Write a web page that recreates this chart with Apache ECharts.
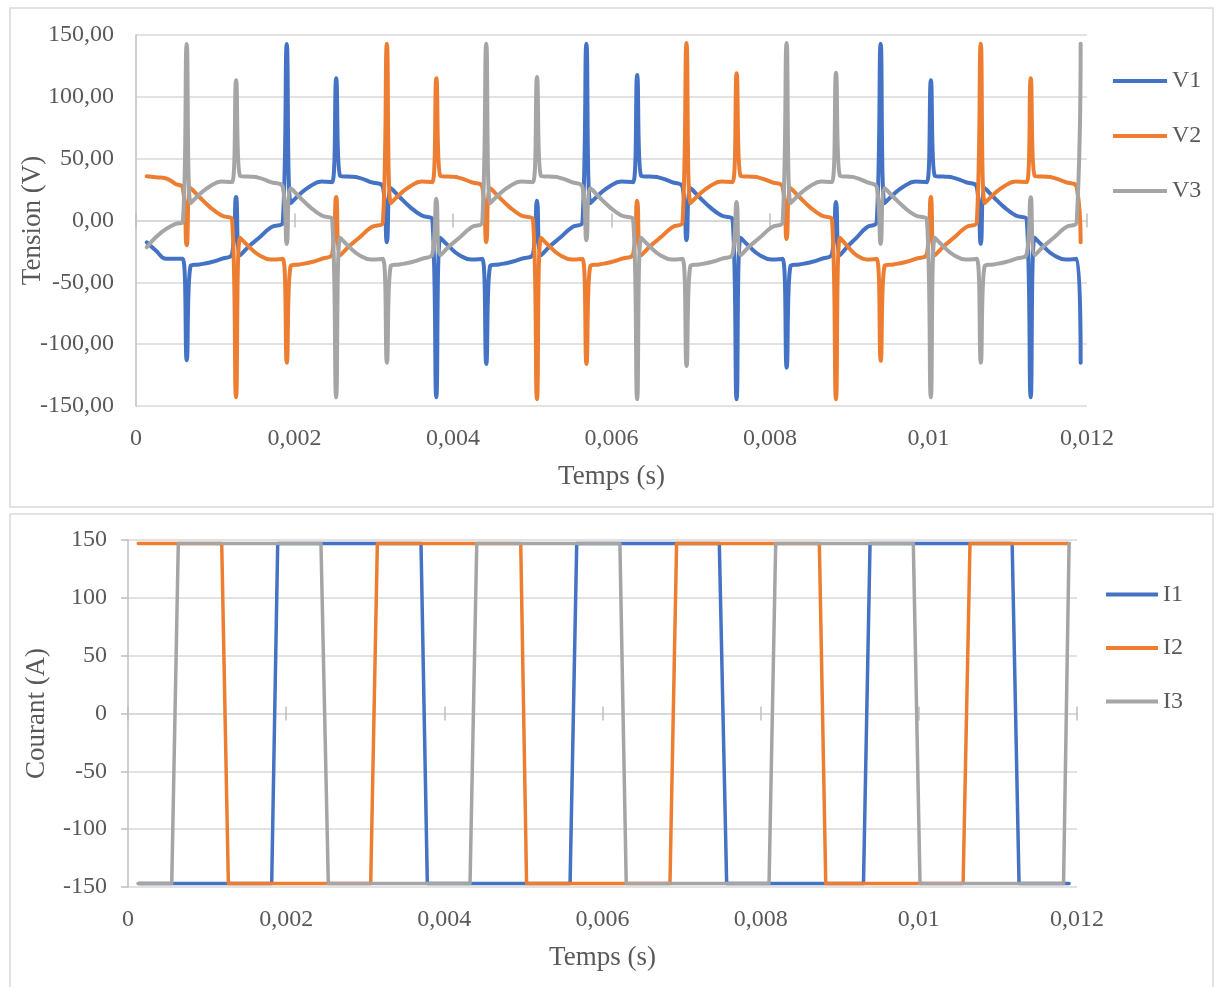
<!DOCTYPE html>
<html><head><meta charset="utf-8">
<script src="https://cdn.jsdelivr.net/npm/echarts@6/dist/echarts.min.js"></script>
<style>html,body{margin:0;padding:0;background:#fff}#c{width:1216px;height:987px}</style>
</head><body><div id="c"></div>
<script>
// ---- Tension (V) : time in ms ----
const timeV = [
0.135, 0.25, 0.38, 0.5, 0.59,
0.64, 0.69, 0.80, 0.93, 1.08, 1.213,
1.263, 1.313, 1.423, 1.553, 1.703, 1.853,
1.903, 1.953, 2.063, 2.193, 2.343, 2.476,
2.526, 2.576, 2.686, 2.816, 2.966, 3.116,
3.166, 3.216, 3.326, 3.456, 3.606, 3.74,
3.79, 3.84, 3.95, 4.08, 4.23, 4.37,
4.42, 4.47, 4.58, 4.71, 4.86, 5.01,
5.06, 5.11, 5.22, 5.35, 5.5, 5.634,
5.684, 5.734, 5.844, 5.974, 6.124, 6.274,
6.324, 6.374, 6.484, 6.614, 6.764, 6.897,
6.947, 6.997, 7.107, 7.237, 7.387, 7.529,
7.579, 7.629, 7.739, 7.869, 8.019, 8.16,
8.21, 8.26, 8.37, 8.5, 8.65, 8.783,
8.833, 8.883, 8.98, 9.09, 9.22, 9.347,
9.397, 9.447, 9.557, 9.687, 9.837, 9.98,
10.03, 10.08, 10.19, 10.32, 10.47, 10.61,
10.66, 10.71, 10.82, 10.95, 11.1, 11.24,
11.29, 11.34, 11.45, 11.58, 11.73, 11.87,
11.92
];
const v1 = [
-17.6, -24.3, -31, -31, -31,
-113, -36.5, -35.5, -34, -31, -27,
19, -28, -21, -14, -5.5, -1.2,
142.7, 14, 21, 27.5, 31.5, 31,
115, 36, 35.5, 34.5, 31, 27,
-17.6, 26, 19, 11, 4, 0.8,
-143, -14, -21, -28, -31.5, -31,
-116, -36.5, -35.5, -34, -31, -27,
16, -28, -21, -14, -5.5, -1.2,
143, 14, 21, 27.5, 31.5, 31,
117.6, 36, 35.5, 34.5, 31, 27,
-16, 26, 19, 11, 4, 0.8,
-144.6, -14, -21, -28, -31.5, -31,
-119, -36.5, -35.5, -34, -31, -27,
15, -28, -21, -14, -5.5, -1.2,
143, 14, 21, 27.5, 31.5, 31,
113.5, 36, 35.5, 34.5, 31, 27,
-19, 26, 19, 11, 4, 0.8,
-143, -14, -21, -28, -31.5, -31,
-115
];
const v2 = [
35.7, 35, 34, 29.5, 26.5,
-20, 26, 19, 11, 4, 0.8,
-143, -14, -21, -28, -31.5, -31,
-115, -36.5, -35.5, -34, -31, -27,
19, -28, -21, -14, -5.5, -1.2,
143, 14, 21, 27.5, 31.5, 31,
115, 36, 35.5, 34.5, 31, 27,
-17.6, 26, 19, 11, 4, 0.8,
-144.6, -14, -21, -28, -31.5, -31,
-116, -36.5, -35.5, -34, -31, -27,
16, -28, -21, -14, -5.5, -1.2,
143.5, 14, 21, 27.5, 31.5, 31,
119, 36, 35.5, 34.5, 31, 27,
-15, 26, 19, 11, 4, 0.8,
-144.6, -14, -21, -28, -31.5, -31,
-113.5, -36.5, -35.5, -34, -31, -27,
19, -28, -21, -14, -5.5, -1.2,
143, 14, 21, 27.5, 31.5, 31,
115, 36, 35.5, 34.5, 31, 27,
-17.6
];
const v3 = [
-21.6, -13.5, -6.8, -2.7, -1.2,
142.7, 14, 21, 27.5, 31.5, 31,
113.5, 36, 35.5, 34.5, 31, 27,
-19, 26, 19, 11, 4, 0.8,
-143, -14, -21, -28, -31.5, -31,
-115, -36.5, -35.5, -34, -31, -27,
17.6, -28, -21, -14, -5.5, -1.2,
143, 14, 21, 27.5, 31.5, 31,
116, 36, 35.5, 34.5, 31, 27,
-16, 26, 19, 11, 4, 0.8,
-144.6, -14, -21, -28, -31.5, -31,
-117.6, -36.5, -35.5, -34, -31, -27,
15, -28, -21, -14, -5.5, -1.2,
143.5, 14, 21, 27.5, 31.5, 31,
119.5, 36, 35.5, 34.5, 31, 27,
-19, 26, 19, 11, 4, 0.8,
-143, -14, -21, -28, -31.5, -31,
-115, -36.5, -35.5, -34, -31, -27,
18.9, -28, -21, -14, -5.5, -1.2,
143
];

// ---- Courant (A) : time in ms ----
const timeI = [
0.13,
0.553, 0.636, 1.185, 1.269, 1.817, 1.893, 2.44, 2.533, 3.069, 3.153,
3.705, 3.785, 4.325, 4.41, 4.966, 5.04, 5.59, 5.674, 6.22, 6.30,
6.853, 6.937, 7.477, 7.57, 8.106, 8.19, 8.742, 8.823, 9.3, 9.383,
9.93, 10.015, 10.56, 10.647, 11.18, 11.267, 11.83, 11.9
];
const i1 = [
-147,
-147, -147, -147, -147, -147, 147, 147, 147, 147, 147,
147, -147, -147, -147, -147, -147, -147, 147, 147, 147,
147, 147, 147, -147, -147, -147, -147, -147, -147, 147,
147, 147, 147, 147, 147, -147, -147, -147
];
const i2 = [
147,
147, 147, 147, -147, -147, -147, -147, -147, -147, 147,
147, 147, 147, 147, 147, -147, -147, -147, -147, -147,
-147, 147, 147, 147, 147, 147, 147, -147, -147, -147,
-147, -147, -147, 147, 147, 147, 147, 147
];
const i3 = [
-147,
-147, 147, 147, 147, 147, 147, 147, -147, -147, -147,
-147, -147, -147, 147, 147, 147, 147, 147, 147, -147,
-147, -147, -147, -147, -147, 147, 147, 147, 147, 147,
147, -147, -147, -147, -147, -147, -147, 147
];

const xTicksMs = {min: 0, max: 12, step: 2};
const yTicks = {min: -150, max: 150, step: 50};
const namesV = ['V1', 'V2', 'V3'];
const namesI = ['I1', 'I2', 'I3'];
const colors = ['#4472C4', '#ED7D31', '#A5A5A5'];

const FONT = '"Liberation Serif", "DejaVu Serif", serif';
const TXT = '#595959';
const GRID_C = '#d9d9d9';
const AXIS_C = '#bfbfbf';

const fmtX = v => v === 0 ? '0' : String(+(v / 1000).toFixed(4)).replace('.', ',');

function labelAxis(grid, name, gap) {
  return {
    type: 'value', gridIndex: grid, position: 'bottom',
    min: xTicksMs.min, max: xTicksMs.max, interval: xTicksMs.step,
    axisLine: {show: false, onZero: false}, axisTick: {show: false}, splitLine: {show: false},
    axisLabel: {formatter: fmtX, fontSize: 24, color: TXT, fontFamily: FONT, margin: 21},
    name: name, nameLocation: 'middle', nameGap: gap, nameMoveOverlap: false,
    nameTextStyle: {fontSize: 27, color: TXT, fontFamily: FONT}
  };
}
function zeroAxis(grid, yIdx, pos) {
  return {
    type: 'value', gridIndex: grid, position: pos,
    min: xTicksMs.min, max: xTicksMs.max, interval: xTicksMs.step,
    axisLine: {show: true, onZero: true, onZeroAxisIndex: yIdx, lineStyle: {color: GRID_C, width: 1.5}},
    axisTick: {show: true, length: 7, lineStyle: {color: AXIS_C, width: 1.5}},
    axisLabel: {show: false}, splitLine: {show: false}
  };
}
function yAxis(grid, name, gap, fmt, ticks, margin) {
  return {
    type: 'value', gridIndex: grid,
    min: yTicks.min, max: yTicks.max, interval: yTicks.step,
    axisLine: {show: true, onZero: false, lineStyle: {color: AXIS_C, width: 1.5}},
    axisTick: {show: ticks, length: 7, lineStyle: {color: AXIS_C, width: 1.5}},
    splitLine: {show: true, lineStyle: {color: GRID_C, width: 1.5}},
    axisLabel: {formatter: fmt, fontSize: 24, color: TXT, fontFamily: FONT, margin: margin},
    name: name, nameLocation: 'middle', nameGap: gap, nameMoveOverlap: false,
    nameTextStyle: {fontSize: 27, color: TXT, fontFamily: FONT}
  };
}

const seriesV = [v1, v2, v3].map((arr, k) => ({
  name: namesV[k], type: 'line', xAxisIndex: 0, yAxisIndex: 0,
  data: timeV.map((t, i) => [t, arr[i]]),
  showSymbol: false, smooth: 0.45,
  lineStyle: {width: 4, color: colors[k], join: 'round', cap: 'round'}, itemStyle: {color: colors[k]}
}));
const seriesI = [i1, i2, i3].map((arr, k) => ({
  name: namesI[k], type: 'line', xAxisIndex: 3, yAxisIndex: 1,
  data: timeI.map((t, i) => [t, arr[i]]),
  showSymbol: false, smooth: false,
  lineStyle: {width: 3.5, color: colors[k], join: 'round', cap: 'round'}, itemStyle: {color: colors[k]}
}));

const chart = echarts.init(document.getElementById('c'), null, {renderer: 'canvas'});
chart.setOption({
  animation: false,
  backgroundColor: '#fff',
  grid: [
    {left: 136, top: 35, width: 951, height: 371, outerBoundsMode: 'none', containLabel: false},
    {left: 128, top: 540, width: 949, height: 347, outerBoundsMode: 'none', containLabel: false}
  ],
  xAxis: [
    labelAxis(0, 'Temps (s)', 57), zeroAxis(0, 0, 'bottom'), zeroAxis(0, 0, 'top'),
    labelAxis(1, 'Temps (s)', 57), zeroAxis(1, 1, 'bottom'), zeroAxis(1, 1, 'top')
  ],
  yAxis: [
    yAxis(0, 'Tension (V)', 90, v => v.toFixed(2).replace('.', ','), false, 22),
    yAxis(1, 'Courant (A)', 78, v => String(v), true, 21)
  ],
  legend: [
    {data: namesV, orient: 'vertical', left: 1113, top: 69, itemWidth: 54, itemHeight: 4, itemGap: 31,
     icon: 'rect', padding: 0, textStyle: {fontSize: 24, color: TXT, fontFamily: FONT}},
    {data: namesI, orient: 'vertical', left: 1106, top: 582.5, itemWidth: 52, itemHeight: 4, itemGap: 29.5,
     icon: 'rect', padding: 0, textStyle: {fontSize: 24, color: TXT, fontFamily: FONT}}
  ],
  graphic: [
    {type: 'rect', shape: {x: 10, y: 8, width: 1203, height: 499}, style: {fill: null, stroke: GRID_C, lineWidth: 1.5}, silent: true},
    {type: 'rect', shape: {x: 10, y: 514, width: 1203, height: 490}, style: {fill: null, stroke: GRID_C, lineWidth: 1.5}, silent: true}
  ],
  series: seriesV.concat(seriesI)
});
</script>
</body></html>
